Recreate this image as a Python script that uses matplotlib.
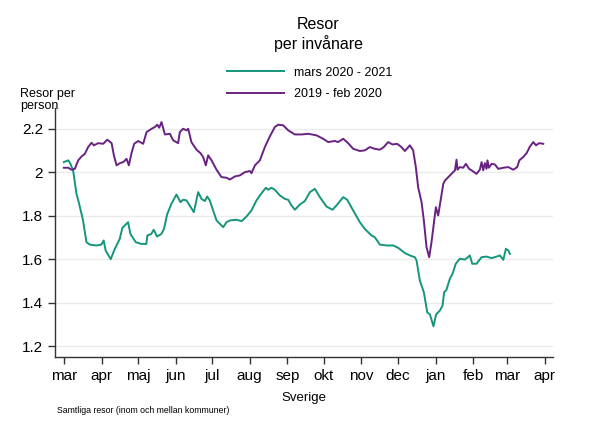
import matplotlib
matplotlib.use("Agg")
import matplotlib.pyplot as plt
import pandas as pd

plt.rcParams['font.family'] = ['Liberation Sans', 'DejaVu Sans']

# days counted from 1 March 2020
green_days = [0, 3.6, 5.4, 7.6, 10.4, 12.6, 15.8, 18.6, 21.3, 26.8, 30.9, 32.8, 34.4, 38.6, 41.9, 46, 48.2,
              52.9, 54.8, 59.2, 63.8, 67.9, 68.8, 72, 74, 76.7, 80.3, 82.5, 85, 88.5, 92.7, 96, 98.2, 101,
              107, 110.6, 113.3, 116.1, 118, 120.1, 122.9, 125.7, 131.2, 133.9, 136.7, 142.2, 146.3, 150.4,
              154.5, 158.6, 162.8, 166.3, 168.2, 171, 173.7, 177.8, 182, 184.7, 187.4, 190.2, 194.3, 198.4,
              202.6, 206.7, 210.8, 216.2, 221.2, 224.5, 230, 233.3, 238.2, 243.7, 247.8, 253.3, 256, 260.2,
              265.7, 271.2, 275.3, 280.8, 286.3, 289, 290.4, 293.1, 296.4, 299.2, 301.4, 304.3, 306.5, 309.6,
              311.8, 313.1, 315, 317.8, 320, 322.7, 326, 330.2, 334.3, 336.2, 339.8, 343.9, 348, 352.2,
              356.3, 359.1, 361.8, 364, 365.9, 367.3]
green_vals = [2.046, 2.054, 2.038, 2.008, 1.90, 1.854, 1.778, 1.678, 1.667, 1.663, 1.667, 1.686, 1.64, 1.60,
              1.647, 1.693, 1.744, 1.77, 1.716, 1.678, 1.67, 1.67, 1.709, 1.716, 1.735, 1.704, 1.716, 1.74,
              1.805, 1.854, 1.897, 1.862, 1.873, 1.870, 1.816, 1.908, 1.877, 1.867, 1.888, 1.870, 1.824,
              1.778, 1.747, 1.770, 1.778, 1.781, 1.775, 1.796, 1.824, 1.870, 1.903, 1.928, 1.919, 1.928,
              1.919, 1.893, 1.877, 1.873, 1.847, 1.827, 1.851, 1.867, 1.908, 1.923, 1.885, 1.842, 1.827,
              1.847, 1.885, 1.873, 1.824, 1.770, 1.739, 1.709, 1.701, 1.667, 1.663, 1.663, 1.652, 1.628,
              1.614, 1.609, 1.594, 1.502, 1.448, 1.356, 1.346, 1.292, 1.346, 1.364, 1.387, 1.448, 1.459,
              1.510, 1.533, 1.579, 1.602, 1.598, 1.617, 1.579, 1.579, 1.609, 1.612, 1.605, 1.612, 1.617,
              1.597, 1.648, 1.640, 1.624]

purple_days = [0, 3.6, 6.3, 9.05, 11.8, 14.6, 17.3, 20, 22.8, 24.7, 28.3, 32.4, 35.7, 39.3, 41.2, 43.4, 46.1,
               48.9, 51.6, 53.5, 55.7, 57.9, 61.2, 65.3, 68.1, 72.2, 74.9, 76.9, 78.5, 80.4, 83.2, 87.3, 90,
               94.1, 95.5, 98.2, 101, 102.4, 105, 109.2, 112.5, 114.7, 116.9, 118.8, 121.6, 125.7, 129.8,
               134, 136.7, 140.8, 145, 149.1, 153.2, 154.5, 157.3, 161.4, 165.5, 169.6, 173.7, 176.5, 180.6,
               184.7, 190.2, 195.7, 201.2, 208, 213.5, 217.6, 223.1, 225.8, 230, 234.1, 238.2, 243.7, 247.8,
               251.9, 256, 260.2, 263.4, 267, 270.6, 274.4, 278, 280.8, 284.9, 287.6, 289.8, 291.7, 294.5,
               296.4, 298.6, 300.8, 302.7, 304.6, 306.3, 308.2, 310.4, 312.4, 313.9, 316.5, 319.2, 322,
               323.3, 324.1, 326, 328.8, 331, 333.7, 336.5, 339.8, 342.5, 343.9, 345.3, 346.6, 348, 348.8,
               349.9, 352.2, 354.9, 357.7, 361.8, 365.9, 370, 373.3, 375, 378.2, 381, 383.8, 386.5, 388.7,
               391.4, 394.7]
purple_vals = [2.020, 2.020, 2.011, 2.015, 2.054, 2.072, 2.084, 2.115, 2.135, 2.123, 2.133, 2.130, 2.149,
               2.133, 2.077, 2.031, 2.041, 2.046, 2.061, 2.031, 2.087, 2.130, 2.143, 2.130, 2.184, 2.199,
               2.207, 2.218, 2.204, 2.230, 2.173, 2.176, 2.146, 2.133, 2.184, 2.199, 2.192, 2.199, 2.138,
               2.103, 2.087, 2.069, 2.031, 2.077, 2.054, 2.011, 1.977, 1.974, 1.966, 1.980, 1.985, 2.000,
               2.005, 1.995, 2.031, 2.054, 2.115, 2.164, 2.207, 2.218, 2.215, 2.192, 2.173, 2.173, 2.176,
               2.169, 2.153, 2.138, 2.143, 2.138, 2.153, 2.133, 2.107, 2.097, 2.100, 2.115, 2.107, 2.103,
               2.115, 2.138, 2.127, 2.130, 2.115, 2.097, 2.123, 2.100, 2.023, 1.931, 1.862, 1.778, 1.655,
               1.609, 1.678, 1.762, 1.839, 1.801, 1.877, 1.946, 1.962, 1.977, 1.992, 2.008, 2.057, 2.011,
               2.023, 2.020, 2.038, 2.015, 2.005, 1.992, 2.011, 2.046, 2.008, 2.041, 2.015, 2.054, 2.020,
               2.038, 2.035, 2.015, 2.020, 2.023, 2.011, 2.023, 2.054, 2.069, 2.087, 2.118, 2.138, 2.123,
               2.133, 2.130]

month_labels = ["mar", "apr", "maj", "jun", "jul", "aug", "sep", "okt", "nov", "dec", "jan", "feb", "mar", "apr"]
y_ticks = [1.2, 1.4, 1.6, 1.8, 2.0, 2.2]
y_labels = ["1.2", "1.4", "1.6", "1.8", "2", "2.2"]

start = pd.Timestamp("2020-03-01")
month_pos = [(d - start).days for d in pd.date_range("2020-03-01", "2021-04-01", freq="MS")]

green = "#14967a"
purple = "#6a2282"

fig = plt.figure(figsize=(5.9, 4.29), dpi=100)
ax = fig.add_axes([0.093, 0.168, 0.844, 0.58])

ax.plot(green_days, green_vals, color=green, lw=1.4, label="mars 2020 - 2021", zorder=3)
ax.plot(purple_days, purple_vals, color=purple, lw=1.4, label="2019 - feb 2020", zorder=3)

ax.set_xlim(-7.4, 402.6)
ax.set_ylim(1.151, 2.294)
ax.set_yticks(y_ticks)
ax.set_yticklabels(y_labels)
ax.set_xticks(month_pos)
ax.set_xticklabels(month_labels)
ax.grid(axis="y", color="#ebebeb", lw=1)
ax.set_axisbelow(True)
for s in ["top", "right"]:
    ax.spines[s].set_visible(False)
for s in ["left", "bottom"]:
    ax.spines[s].set_color("#333333")
    ax.spines[s].set_linewidth(1)
ax.tick_params(axis="both", labelsize=11, colors="#333333", labelcolor="black", length=5, width=1)
ax.tick_params(axis="x", pad=4)
ax.set_xlabel("Sverige", fontsize=9.5, labelpad=6)

fig.text(0.539, 0.942, "Resor", ha="center", va="center", fontsize=11.5)
fig.text(0.539, 0.899, "per invånare", ha="center", va="center", fontsize=11.5)
fig.text(0.034, 0.766, "Resor per\nperson", ha="left", va="center", fontsize=9, linespacing=1.0)
fig.text(0.097, 0.044, "Samtliga resor (inom och mellan kommuner)", ha="left", va="center", fontsize=6.3)

fig.legend(loc="center left", bbox_to_anchor=(0.365, 0.806), frameon=False, fontsize=9,
           handlelength=4.6, labelspacing=0.75, handletextpad=0.8)

fig.savefig("out.png", dpi=100, facecolor="white")
